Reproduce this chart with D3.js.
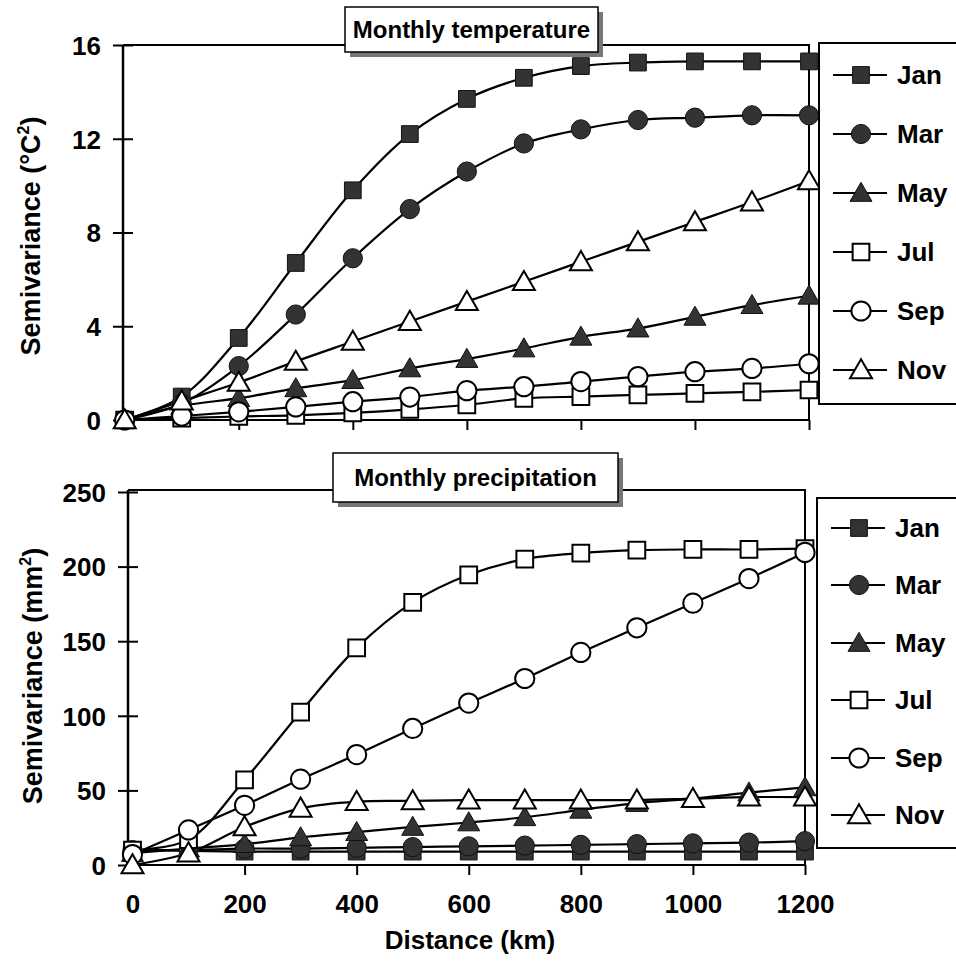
<!DOCTYPE html>
<html><head><meta charset="utf-8">
<script src="https://cdn.jsdelivr.net/npm/d3@7"></script>
<style>
html,body{margin:0;padding:0;background:#fff;}
svg text{font-family:"Liberation Sans",Arial,sans-serif;font-weight:bold;fill:#000;}
</style></head>
<body>
<svg id="chart" width="956" height="971"></svg>
<script>
const distances = [0,100,200,300,400,500,600,700,800,900,1000,1100,1200];
const months = ["Jan","Mar","May","Jul","Sep","Nov"];
const markerTypes = ["squareFilled","circleFilled","triangleFilled","squareOpen","circleOpen","triangleOpen"];

const tempJan = [0,1.0,3.5,6.7,9.8,12.2,13.7,14.6,15.1,15.25,15.3,15.3,15.3];
const tempMar = [0,0.7,2.3,4.5,6.9,9.0,10.6,11.8,12.4,12.8,12.9,13.0,13.0];
const tempMay = [0,0.6,0.93,1.35,1.7,2.2,2.6,3.05,3.55,3.9,4.4,4.9,5.3];
const tempJul = [0,0.08,0.15,0.2,0.3,0.45,0.65,0.92,1.0,1.07,1.14,1.2,1.28];
const tempSep = [0,0.17,0.35,0.56,0.78,0.98,1.25,1.42,1.64,1.85,2.06,2.2,2.4];
const tempNov = [0,0.8,1.6,2.5,3.35,4.2,5.05,5.9,6.75,7.6,8.45,9.3,10.2];

const precJan = [10,9.5,9,9,9,9,9,9,9,9,9,9,9];
const precMar = [10,10,11,11,11.5,12,12.5,13,13.5,14,14.5,15,16];
const precMay = [8,11,14,18.5,22,25.5,28.5,32,37,41.5,44.5,48.5,52];
const precJul = [10,17,57,102.5,145.5,176,194.5,205,209,211,211.5,211.5,212];
const precSep = [7,23.5,40,57.5,74,91.5,108.5,125,142.5,159,175.5,192,209.5];
const precNov = [0,8,25.5,38,42.5,43,43.5,43.5,43.5,43.5,44.5,45.5,45.5];

const tempTicks = [0,4,8,12,16];
const precTicks = [0,50,100,150,200,250];
const xTicks = [0,200,400,600,800,1000,1200];

const svg = d3.select("#chart");

function marker(g, type, x, y) {
  const filled = type.endsWith("Filled");
  const base = type.replace("Filled","").replace("Open","");
  const sym = base === "square" ? d3.symbolSquare : base === "circle" ? d3.symbolCircle : d3.symbolTriangle;
  const size = base === "square" ? 280 : base === "circle" ? 290 : 210;
  const dy = base === "triangle" ? 2 : 0;
  g.append("path")
    .attr("d", d3.symbol().type(sym).size(size)())
    .attr("transform", `translate(${x},${y + dy})`)
    .attr("fill", filled ? "#333" : "#fff")
    .attr("stroke", filled ? "#111" : "#000")
    .attr("stroke-width", filled ? 1 : 2);
}

function panel(opts) {
  const {series, yDomain, yTicks, xRange, yRange, frame, title, titleBox, legendBox, legendYs, yLabel, showXLabels} = opts;
  const g = svg.append("g");
  const x = d3.scaleLinear().domain([opts.xMin, 1200]).range(xRange);
  const y = d3.scaleLinear().domain(yDomain).range(yRange);

  g.append("path")
    .attr("d", `M${frame.left},${frame.top}H${frame.right}V${frame.bottom}`)
    .attr("fill", "none").attr("stroke", "#000").attr("stroke-width", 2);

  const ya = g.append("g").attr("transform", `translate(${frame.left},0)`)
    .call(d3.axisLeft(y).tickValues(yTicks).tickFormat(d3.format("d")).tickSize(10).tickPadding(12));
  ya.select(".domain").attr("stroke", "#000").attr("stroke-width", 2.5).attr("d", `M0,${frame.top}V${frame.bottom}`);
  ya.selectAll(".tick line").attr("x1", -10).attr("x2", 10).attr("stroke", "#000").attr("stroke-width", 2);
  ya.selectAll(".tick text").attr("font-size", 26).attr("dy", "0.36em");

  const xa = g.append("g").attr("transform", `translate(0,${frame.bottom})`)
    .call(d3.axisBottom(x).tickValues(xTicks).tickSize(10).tickPadding(20).tickFormat(showXLabels ? d3.format("d") : ""));
  xa.select(".domain").attr("stroke", "#000").attr("stroke-width", 2).attr("d", `M${frame.left},0H${frame.right}`);
  xa.selectAll(".tick line").attr("stroke", "#000").attr("stroke-width", 2)
    .attr("display", d => d === 0 ? "none" : null);
  xa.selectAll(".tick text").attr("font-size", 26);

  const line = d3.line().x((d, i) => x(distances[i])).y(d => y(d)).curve(d3.curveCatmullRom.alpha(0.5));
  series.forEach(s => {
    g.append("path").datum(s.values).attr("d", line)
      .attr("fill", "none").attr("stroke", "#000").attr("stroke-width", 2.2);
  });
  series.forEach(s => {
    s.values.forEach((v, i) => marker(g, s.type, x(distances[i]), y(v)));
  });

  g.append("rect").attr("x", titleBox.x + 5).attr("y", titleBox.y + 5)
    .attr("width", titleBox.w).attr("height", titleBox.h).attr("fill", "#777");
  g.append("rect").attr("x", titleBox.x).attr("y", titleBox.y)
    .attr("width", titleBox.w).attr("height", titleBox.h)
    .attr("fill", "#fff").attr("stroke", "#000").attr("stroke-width", 1.5);
  g.append("text").attr("x", titleBox.x + titleBox.w / 2).attr("y", titleBox.y + titleBox.h / 2)
    .attr("dy", "0.36em").attr("text-anchor", "middle").attr("font-size", 24).text(title);

  g.append("rect").attr("x", legendBox.x).attr("y", legendBox.y)
    .attr("width", legendBox.w).attr("height", legendBox.h)
    .attr("fill", "#fff").attr("stroke", "#000").attr("stroke-width", 2);
  series.forEach((s, i) => {
    const ly = legendYs[i];
    g.append("line").attr("x1", legendBox.x + 14).attr("x2", legendBox.x + 68)
      .attr("y1", ly).attr("y2", ly).attr("stroke", "#000").attr("stroke-width", 2);
    marker(g, s.type, legendBox.x + 42, ly);
    g.append("text").attr("x", legendBox.x + 78).attr("y", ly).attr("dy", "0.36em")
      .attr("font-size", 26).text(s.name);
  });

  const yl = g.append("text")
    .attr("transform", `translate(${yLabel.x},${yLabel.y}) rotate(-90)`)
    .attr("text-anchor", "middle").attr("font-size", 27);
  yl.append("tspan").text(yLabel.pre);
  yl.append("tspan").attr("font-size", 16).attr("dy", -11).text("2");
  yl.append("tspan").attr("dy", 11).text(")");
  return g;
}

const tempSeries = [tempJan,tempMar,tempMay,tempJul,tempSep,tempNov]
  .map((v, i) => ({name: months[i], type: markerTypes[i], values: v}));
const precSeries = [precJan,precMar,precMay,precJul,precSep,precNov]
  .map((v, i) => ({name: months[i], type: markerTypes[i], values: v}));

panel({
  series: tempSeries, yDomain: [0,16], yTicks: tempTicks,
  xMin: -3, xRange: [123, 809], yRange: [420, 45],
  frame: {left: 123, right: 809, top: 45, bottom: 420},
  title: "Monthly temperature", titleBox: {x: 345, y: 7, w: 253, h: 45},
  legendBox: {x: 819, y: 43, w: 150, h: 361},
  legendYs: [75, 134, 193, 252, 311, 370],
  yLabel: {x: 40, y: 236, pre: "Semivariance (°C"},
  showXLabels: false
});

panel({
  series: precSeries, yDomain: [0,250], yTicks: precTicks,
  xMin: -8, xRange: [128, 805], yRange: [865, 492],
  frame: {left: 128, right: 805, top: 490, bottom: 865},
  title: "Monthly precipitation", titleBox: {x: 333, y: 453, w: 285, h: 49},
  legendBox: {x: 817, y: 498, w: 150, h: 350},
  legendYs: [528, 585, 643, 700, 758, 815],
  yLabel: {x: 42, y: 676, pre: "Semivariance (mm"},
  showXLabels: true
});

svg.append("text").attr("x", 470).attr("y", 949).attr("text-anchor", "middle")
  .attr("font-size", 26).text("Distance (km)");
</script>
</body></html>
